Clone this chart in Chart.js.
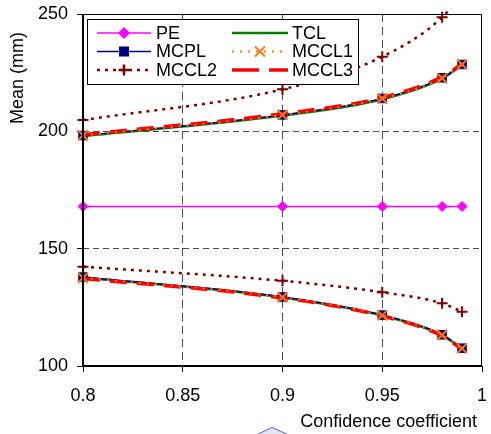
<!DOCTYPE html>
<html>
<head>
<meta charset="utf-8">
<script src="https://cdn.jsdelivr.net/npm/chart.js@4.4.0/dist/chart.umd.min.js"></script>
<style>
  html, body { margin: 0; padding: 0; background: #fff; }
  #wrap { width: 491px; height: 434px; position: relative; }
</style>
</head>
<body>
<div id="wrap"><canvas id="meanChart"></canvas></div>
<script>
// confidence coefficients where the limits were computed
const confidence = [0.8, 0.9, 0.95, 0.98, 0.99];

const peMean = [168, 168, 168, 168, 168];

const tclUpper = [198.0, 206.7, 213.7, 222.5, 228.3];
const tclLower = [137.7, 129.2, 121.5, 113.1, 107.4];
const mcplUpper = [198.2, 207.0, 214.0, 222.8, 228.5];
const mcplLower = [137.9, 129.4, 121.7, 113.3, 107.6];
const mccl1Upper = [198.3, 207.0, 214.0, 222.6, 228.5];
const mccl1Lower = [137.6, 129.3, 121.6, 113.2, 107.5];
const mccl2Upper = [204.8, 217.9, 231.8, 248.6, 259.0];
const mccl2Lower = [142.3, 136.3, 131.4, 126.7, 123.1];
const mccl3Upper = [198.6, 207.5, 214.4, 223.2, 228.7];
const mccl3Lower = [137.3, 129.0, 121.3, 112.8, 107.2];

const xTicks = [0.8, 0.85, 0.9, 0.95, 1];
const yTicks = [100, 150, 200, 250];

const FONT = "'Liberation Sans', Arial, sans-serif";

const styles = {
  PE:    { color: '#ff00ff', width: 1.5, dash: [],      point: 'rectRot',  radius: 5,   order: 4 },
  TCL:   { color: '#008000', width: 2.5, dash: [],      point: false,      radius: 0,   order: 3 },
  MCPL:  { color: '#000080', width: 1.5, dash: [],      point: 'rect',     radius: 6,   order: 2 },
  MCCL1: { color: '#ff7a10', width: 2,   dash: [2, 6],  point: 'crossRot', radius: 7,   order: 0 },
  MCCL2: { color: '#800000', width: 2.5, dash: [3, 5],  point: 'cross',    radius: 5.5, order: 5 },
  MCCL3: { color: '#ff0000', width: 3.5, dash: [17, 10], point: false,     radius: 0,   order: 1 }
};

function series(name, values) {
  const s = styles[name];
  return {
    label: name,
    data: confidence.map((c, i) => ({ x: c, y: values[i] })),
    borderColor: s.color,
    backgroundColor: s.color,
    borderWidth: s.width,
    borderDash: s.dash,
    pointStyle: s.point,
    pointRadius: s.radius,
    pointBorderWidth: s.point === 'cross' || s.point === 'crossRot' ? 2 : 1,
    pointBorderColor: s.color,
    pointBackgroundColor: s.color,
    cubicInterpolationMode: 'monotone',
    fill: false,
    order: s.order,
    clip: 6
  };
}

const datasets = [
  series('PE', peMean),
  series('TCL', tclUpper), series('TCL', tclLower),
  series('MCPL', mcplUpper), series('MCPL', mcplLower),
  series('MCCL1', mccl1Upper), series('MCCL1', mccl1Lower),
  series('MCCL2', mccl2Upper), series('MCCL2', mccl2Lower),
  series('MCCL3', mccl3Upper), series('MCCL3', mccl3Lower)
];

const legendCols = [['PE', 'MCPL', 'MCCL2'], ['TCL', 'MCCL1', 'MCCL3']];

function drawSwatch(ctx, name, x0, x1, y) {
  const s = styles[name];
  ctx.save();
  ctx.strokeStyle = s.color;
  ctx.fillStyle = s.color;
  ctx.lineWidth = s.width;
  ctx.setLineDash(name === 'MCCL3' ? [27, 10] : s.dash);
  ctx.beginPath();
  ctx.moveTo(x0, y);
  ctx.lineTo(x1, y);
  ctx.stroke();
  ctx.setLineDash([]);
  if (s.point) {
    Chart.helpers.drawPoint(ctx, {
      pointStyle: s.point, radius: s.radius, rotation: 0,
      borderWidth: s.point === 'cross' || s.point === 'crossRot' ? 2 : 1
    }, (x0 + x1) / 2, y);
  }
  ctx.restore();
}

const decorations = {
  id: 'decorations',
  afterDatasetsDraw(chart) {
    const { ctx, chartArea: a } = chart;
    ctx.save();
    ctx.strokeStyle = '#000';
    ctx.lineWidth = 1;
    ctx.beginPath();
    ctx.moveTo(a.left, a.top + 0.5);
    ctx.lineTo(a.right - 0.5, a.top + 0.5);
    ctx.lineTo(a.right - 0.5, a.bottom);
    ctx.stroke();
    ctx.lineWidth = 2;
    ctx.beginPath();
    ctx.moveTo(a.left, a.top);
    ctx.lineTo(a.left, a.bottom);
    ctx.lineTo(a.right, a.bottom);
    ctx.stroke();
    ctx.restore();
  },
  afterDraw(chart) {
    const ctx = chart.ctx;
    ctx.save();
    // legend box
    ctx.fillStyle = '#fff';
    ctx.fillRect(87, 19, 271, 65);
    ctx.strokeStyle = '#000';
    ctx.lineWidth = 1;
    ctx.strokeRect(87.5, 19.5, 271, 65);
    const rows = [33, 51.5, 70];
    const cols = [{ x0: 97, x1: 151, tx: 156 }, { x0: 232, x1: 288, tx: 292 }];
    ctx.font = '18px ' + FONT;
    ctx.textBaseline = 'middle';
    legendCols.forEach((names, c) => {
      names.forEach((name, r) => {
        drawSwatch(ctx, name, cols[c].x0, cols[c].x1, rows[r]);
        ctx.fillStyle = '#000';
        ctx.textAlign = 'left';
        ctx.fillText(name, cols[c].tx, rows[r] + 1);
      });
    });
    // axis titles
    ctx.fillStyle = '#000';
    ctx.font = '18px ' + FONT;
    ctx.textAlign = 'right';
    ctx.fillText('Confidence coefficient', 477, 422);
    ctx.translate(18, 78);
    ctx.rotate(-Math.PI / 2);
    ctx.textAlign = 'center';
    ctx.fillText('Mean (mm)', 0, 0);
    ctx.restore();
    // small shape peeking in at the bottom
    ctx.save();
    ctx.fillStyle = '#e4e6f4';
    ctx.strokeStyle = '#5c66b0';
    ctx.lineWidth = 1;
    ctx.beginPath();
    ctx.moveTo(256, 435);
    ctx.lineTo(272, 427.5);
    ctx.lineTo(289, 435);
    ctx.fill();
    ctx.stroke();
    ctx.restore();
  }
};

const gridColor = (edges) => (c) => edges.includes(c.tick && c.tick.value) ? 'rgba(0,0,0,0)' : '#4a4a4a';

new Chart(document.getElementById('meanChart'), {
  type: 'line',
  data: { datasets: datasets },
  options: {
    responsive: true,
    maintainAspectRatio: false,
    animation: false,
    layout: { padding: { top: 14, right: 3, left: 0, bottom: 0 } },
    plugins: { legend: { display: false }, tooltip: { enabled: false } },
    scales: {
      x: {
        type: 'linear',
        min: 0.8,
        max: 1,
        afterBuildTicks: (scale) => { scale.ticks = xTicks.map(v => ({ value: v })); },
        afterFit: (scale) => {
          scale.height = 68;
          scale.paddingLeft = 0;
          scale.paddingRight = 0;
        },
        border: { display: false, dash: [8, 5] },
        grid: { color: gridColor([0.8, 1]), tickColor: '#000', tickLength: 6, lineWidth: 1 },
        ticks: {
          color: '#000',
          padding: 13,
          maxRotation: 0,
          font: { family: FONT, size: 18 },
          callback: (v) => String(Number(v.toFixed(2)))
        }
      },
      y: {
        min: 100,
        max: 250,
        afterBuildTicks: (scale) => { scale.ticks = yTicks.map(v => ({ value: v })); },
        afterFit: (scale) => {
          scale.width = 83;
          scale.paddingTop = 0;
          scale.paddingBottom = 0;
        },
        border: { display: false, dash: [6, 4] },
        grid: { color: gridColor([100, 250]), tickColor: '#000', tickLength: 6, lineWidth: 1 },
        ticks: {
          color: '#000',
          padding: 9,
          font: { family: FONT, size: 18 }
        }
      }
    }
  },
  plugins: [decorations]
});
</script>
</body>
</html>
